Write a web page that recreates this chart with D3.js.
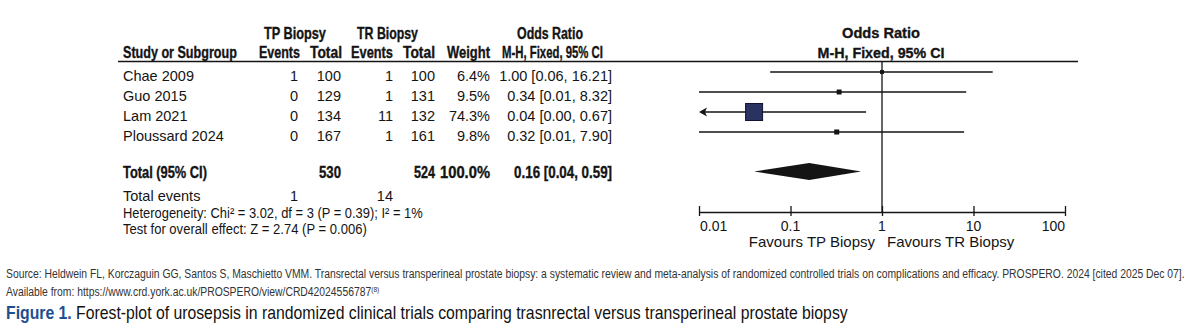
<!DOCTYPE html>
<html><head><meta charset="utf-8">
<script src="https://cdn.jsdelivr.net/npm/d3@7"></script>
<style>
html,body{margin:0;padding:0;background:#fff;}
svg{display:block;}
</style></head>
<body>
<svg id="c" width="1200" height="327"></svg>
<script>
// ---- data ----
const studies   = ["Chae 2009","Guo 2015","Lam 2021","Ploussard 2024"];
const tpEvents  = [1,0,0,0];
const tpTotal   = [100,129,134,167];
const trEvents  = [1,1,11,1];
const trTotal   = [100,131,132,161];
const weights   = [6.4,9.5,74.3,9.8];
const orVals    = [1.00,0.34,0.04,0.32];
const ciLow     = [0.06,0.01,0.00,0.01];
const ciHigh    = [16.21,8.32,0.67,7.90];
const totalTP   = 530, totalTR = 524, totalWeight = 100.0;
const totalOR   = [0.16,0.04,0.59];
const totalEvents = [1,14];
const axisTicks = [0.01,0.1,1,10,100];
const axisLabels = ["0.01","0.1","1","10","100"];
const hetText = "Heterogeneity: Chi² = 3.02, df = 3 (P = 0.39); I² = 1%";
const testText = "Test for overall effect: Z = 2.74 (P = 0.006)";

const svg = d3.select("#c");
const REG = "'Liberation Sans', Arial, sans-serif";
const ink = "#141414";

const x = d3.scaleLog().domain([0.01,100]).range([699,1065]).clamp(true);
const rowY = d3.scaleLinear().domain([0,1]).range([72,92]);
const sq = d3.scalePow().exponent(0.6).domain([0,74.3]).range([0,17]);

const fmt2 = d3.format(".2f");
const fmtW = d3.format(".1f");

function txt(xp,yp,s,o={}){
  const t = svg.append("text").attr("x",xp).attr("y",yp).text(s)
    .attr("font-family",REG).attr("font-size",o.fs||14.5)
    .attr("font-weight",o.fw||"normal").attr("fill",o.fill||ink)
    .attr("text-anchor",o.a||"start");
  if(o.heavy) t.attr("stroke",ink).attr("stroke-width",0.35);
  if(o.w) fit(t,o.w);
  return t;
}
function fit(t,w){
  const n = t.node().getComputedTextLength();
  const s = w/n;
  scaleX(t,s);
  return s;
}
function scaleX(t,s){
  const xx = +t.attr("x");
  t.attr("transform",`translate(${xx*(1-s)},0) scale(${s},1)`);
}
const H = {fs:16,fw:"bold",heavy:true};

// headers
txt(295,39,"TP Biopsy",{...H,a:"middle",w:62});
txt(387.5,39,"TR Biopsy",{...H,a:"middle",w:61});
txt(550,39,"Odds Ratio",{...H,a:"middle",w:66});
txt(123,58,"Study or Subgroup",{...H,w:114});
txt(300,58,"Events",{...H,a:"end",w:41});
txt(342,58,"Total",{...H,a:"end",w:32});
txt(393,58,"Events",{...H,a:"end",w:42});
txt(435,58,"Total",{...H,a:"end",w:32});
txt(490,58,"Weight",{...H,a:"end",w:43});
txt(552.5,58,"M-H, Fixed, 95% CI",{...H,a:"middle",w:101});
txt(881,38.5,"Odds Ratio",{fs:15.5,fw:"bold",a:"middle",w:78,heavy:true});
txt(881,58,"M-H, Fixed, 95% CI",{fs:15.5,fw:"bold",a:"middle",w:127,heavy:true});

// header rule
svg.append("line").attr("x1",118).attr("x2",1078).attr("y1",61.5).attr("y2",61.5)
  .attr("stroke",ink).attr("stroke-width",1.5);

// vertical line at OR=1
svg.append("line").attr("x1",x(1)).attr("x2",x(1)).attr("y1",61.5).attr("y2",212)
  .attr("stroke",ink).attr("stroke-width",1.3);

// study rows
studies.forEach((s,i)=>{
  const y = rowY(i), ty = y+8.5;
  txt(123,ty,s);
  txt(298,ty,tpEvents[i],{a:"end"});
  txt(341,ty,tpTotal[i],{a:"end"});
  txt(393,ty,trEvents[i],{a:"end"});
  txt(435,ty,trTotal[i],{a:"end"});
  txt(490,ty,fmtW(weights[i])+"%",{a:"end"});
  txt(612,ty,`${fmt2(orVals[i])} [${fmt2(ciLow[i])}, ${fmt2(ciHigh[i])}]`,{a:"end"});
  // CI line
  const lowClipped = ciLow[i] < 0.01;
  const x1 = x(Math.max(ciLow[i],0.01)), x2 = x(ciHigh[i]);
  svg.append("line").attr("x1",lowClipped?x1+6:x1).attr("x2",x2).attr("y1",y).attr("y2",y)
    .attr("stroke",ink).attr("stroke-width",1.3);
  if(lowClipped){
    svg.append("path").attr("d",`M${x1},${y} L${x1+8},${y-4.5} L${x1+6},${y} L${x1+8},${y+4.5} Z`)
      .attr("fill",ink);
  }
  const side = sq(weights[i]);
  svg.append("rect").attr("x",x(orVals[i])-side/2).attr("y",y-side/2)
    .attr("width",side).attr("height",side)
    .attr("fill", weights[i]>50 ? "#2a3262" : ink)
    .attr("stroke", weights[i]>50 ? "#10142e" : "none").attr("stroke-width",1);
});

// total row
const tY = 171.5, tty = 178.5;
txt(123,tty,"Total (95% CI)",{...H,w:84});
txt(341,tty,totalTP,{...H,a:"end",w:22});
txt(435,tty,totalTR,{...H,a:"end",w:21});
txt(490,tty,fmtW(totalWeight)+"%",{...H,a:"end",w:50});
txt(612,tty,`${fmt2(totalOR[0])} [${fmt2(totalOR[1])}, ${fmt2(totalOR[2])}]`,{...H,a:"end",w:98});
svg.append("path")
  .attr("d",`M${x(totalOR[1])},${tY} L${x(totalOR[0])},${tY-8.5} L${x(totalOR[2])},${tY} L${x(totalOR[0])},${tY+8.5} Z`)
  .attr("fill",ink);

txt(123,201,"Total events");
txt(298,201,totalEvents[0],{a:"end"});
txt(393,201,totalEvents[1],{a:"end"});
txt(123,218,hetText,{w:300});
txt(123,234,testText,{w:244});

// axis
const ax = svg.append("g").attr("transform","translate(0,212)");
ax.call(d3.axisBottom(x).tickValues(axisTicks).tickSize(0).tickFormat(""));
ax.select(".domain").attr("stroke",ink).attr("stroke-width",1.3);
ax.selectAll(".tick").append("line").attr("y1",-6).attr("y2",4).attr("stroke",ink).attr("stroke-width",1.3);
axisTicks.forEach((t,i)=>{
  const a = i===0?"start":(i===axisTicks.length-1?"end":"middle");
  txt(x(t)+(i===0?1:0),231,axisLabels[i],{fs:14,a});
});
txt(875,246.5,"Favours TP Biopsy",{fs:15,a:"end"});
txt(887,246.5,"Favours TR Biopsy",{fs:15});

// caption
const src = svg.append("text").attr("x",6).attr("y",278).attr("font-family",REG).attr("font-size",12.5)
  .attr("fill","#333")
  .text("Source: Heldwein FL, Korczaguin GG, Santos S, Maschietto VMM. Transrectal versus transperineal prostate biopsy: a systematic review and meta-analysis of randomized controlled trials on complications and efficacy. PROSPERO. 2024 [cited 2025 Dec 07].");
const sc = fit(src,1180);
const av = svg.append("text").attr("x",6).attr("y",296).attr("font-family",REG).attr("font-size",12.5).attr("fill","#333");
av.append("tspan").text("Available from: https://www.crd.york.ac.uk/PROSPERO/view/CRD42024556787");
av.append("tspan").attr("dy",-4).attr("font-size",8).text("(8)");
scaleX(av,sc);
const fig = svg.append("text").attr("x",6).attr("y",319).attr("font-family",REG).attr("font-size",17.5).attr("fill","#111");
fig.append("tspan").attr("font-weight","bold").attr("fill","#1d4f8f").text("Figure 1.");
fig.append("tspan").text(" Forest-plot of urosepsis in randomized clinical trials comparing trasnrectal versus transperineal prostate biopsy");
fit(fig,842);
</script>
</body></html>
